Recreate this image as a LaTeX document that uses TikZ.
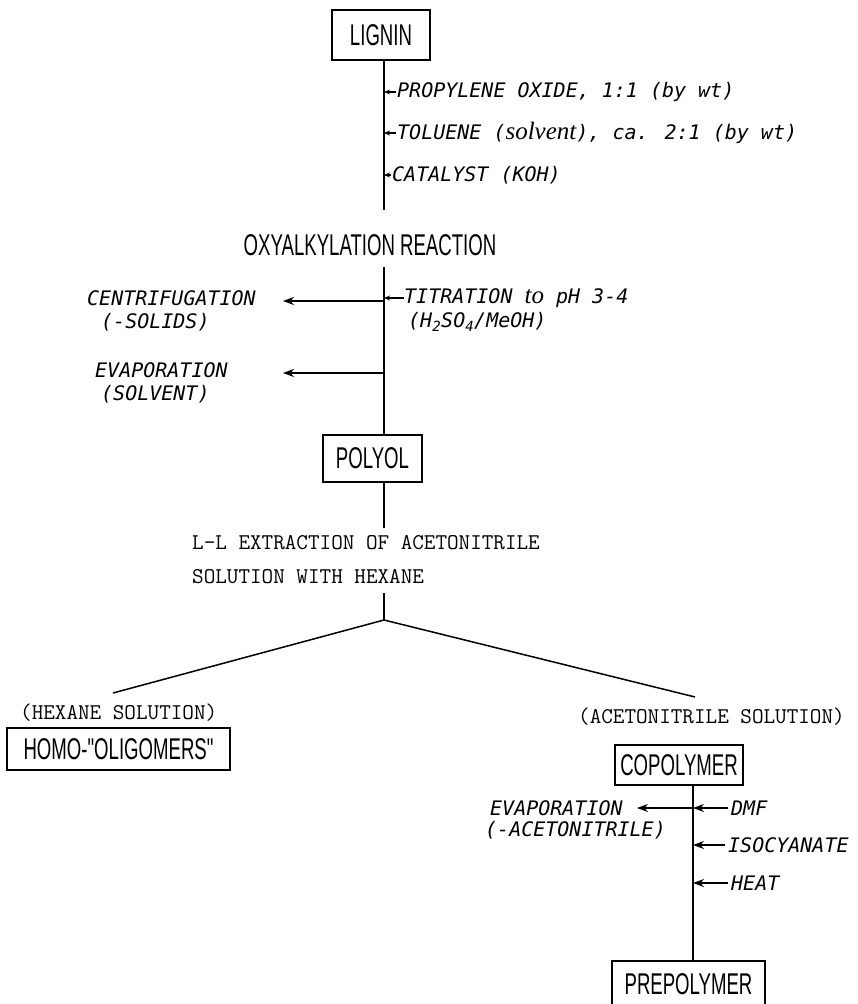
\documentclass[tikz,border=0pt]{standalone}
\usepackage{fontspec}
\usepackage{tikz}
\usetikzlibrary{arrows.meta,positioning,calc}
\newfontfamily\boxfont{Liberation Sans}[FakeStretch=0.62]
\newfontfamily\handfont{DejaVu Sans Mono}
\newfontfamily\cursivefont{Liberation Serif}
\newcommand{\cursive}[1]{{\cursivefont\itshape\fontsize{25}{24}\selectfont #1}}

\begin{document}
\begin{tikzpicture}[
    x=1pt, y=-1pt,
    stage/.style={draw, line width=1.5pt, font=\boxfont\fontsize{30}{30}\selectfont, inner sep=0pt},
    heading/.style={font=\boxfont\fontsize{30}{30}\selectfont, inner sep=0pt},
    hand/.style={font=\handfont\itshape\fontsize{20}{24}\selectfont, inner sep=0pt, anchor=west},
    typed/.style={font=\ttfamily\fontsize{22.5}{34}\selectfont, inner sep=0pt, anchor=west, align=left},
    flow/.style={line width=1.5pt},
    outlet/.style={flow, -{Stealth[length=11pt,width=8pt]}},
    feed/.style={flow, -{Stealth[length=6pt,width=5pt]}}
]
\useasboundingbox (0,0) rectangle (857,1004);

% Spine positions
\coordinate (spine) at (384,0);
\coordinate (cspine) at (693,0);

% Lignin and reagents
\node[stage, minimum width=98pt, minimum height=50pt] (lignin) at (381,35) {LIGNIN};
\node[hand] (propox) at (397,92) {PROPYLENE OXIDE, 1:1 (by wt)};
\node[hand] (toluene) at (397,133) {TOLUENE (\cursive{solvent}), ca. 2:1 (by wt)};
\node[hand] (catal) at (392,175) {CATALYST (KOH)};
\coordinate (oxyin) at (384,210);

% Oxyalkylation
\node[heading] (oxy) at (370,245) {OXYALKYLATION REACTION};
\coordinate (oxyout) at (384,267);
\node[hand] (titr) at (404,298) {TITRATION \cursive{to} pH 3-4};
\node[hand] (titracid) at (408,322) {(H\textsubscript{2}SO\textsubscript{4}/MeOH)};
\node[hand] (centr) at (87,298) {CENTRIFUGATION};
\node[hand] (solids) at (101,322) {(-SOLIDS)};
\coordinate (centrtip) at (283,301);
\node[hand] (evap) at (95,370) {EVAPORATION};
\node[hand] (solvent) at (101,394) {(SOLVENT)};
\coordinate (evaptip) at (283,373);

% Polyol and extraction
\node[stage, minimum width=99pt, minimum height=47pt] (polyol) at (372.5,458.5) {POLYOL};
\coordinate (polyolout) at (384,528);
\node[typed] (extract) at (192,560) {L-L EXTRACTION OF ACETONITRILE\\SOLUTION WITH HEXANE};
\coordinate (forkin) at (384,593);
\coordinate (fork) at (384,620);
\coordinate (hexend) at (113,693);
\coordinate (acnend) at (695,697);

% Two phases
\node[typed] (hexsol) at (20,713) {(HEXANE SOLUTION)};
\node[typed] (acnsol) at (578,717) {(ACETONITRILE SOLUTION)};
\node[stage, minimum width=223pt, minimum height=42pt] (homo) at (118.5,749) {HOMO-"OLIGOMERS"};
\node[stage, minimum width=128pt, minimum height=40pt] (copoly) at (679,765) {COPOLYMER};
\node[hand] (dmf) at (731,808) {DMF};
\node[hand] (isocy) at (728,845) {ISOCYANATE};
\node[hand] (heat) at (731,883) {HEAT};
\node[hand] (evapacn) at (490,808) {EVAPORATION};
\node[hand] (acnoff) at (485,830) {(-ACETONITRILE)};
\coordinate (evapacntip) at (637,808);
\node[stage, minimum width=153pt, minimum height=46pt] (prepoly) at (688.5,984) {PREPOLYMER};

% Connections
\draw[flow] (lignin.south -| spine) -- (oxyin);
\foreach \r in {propox,toluene,catal} \draw[feed] ([xshift=-1pt]\r.west) -- (\r.west -| spine);
\draw[flow] (oxyout) -- (polyol.north -| spine);
\draw[feed] (titr.west) -- (titr.west -| spine);
\draw[outlet] (centrtip -| spine) -- (centrtip);
\draw[outlet] (evaptip -| spine) -- (evaptip);
\draw[flow] (polyol.south -| spine) -- (polyolout);
\draw[flow] (forkin) -- (fork);
\draw[flow] (hexend) -- (fork) -- (acnend);
\draw[flow] (copoly.south -| cspine) -- (prepoly.north -| cspine);
\draw[outlet] (evapacntip -| cspine) -- (evapacntip);
\foreach \r in {dmf,isocy,heat} \draw[outlet] ([xshift=-3pt]\r.west) -- (\r.west -| cspine);

\end{tikzpicture}
\end{document}
